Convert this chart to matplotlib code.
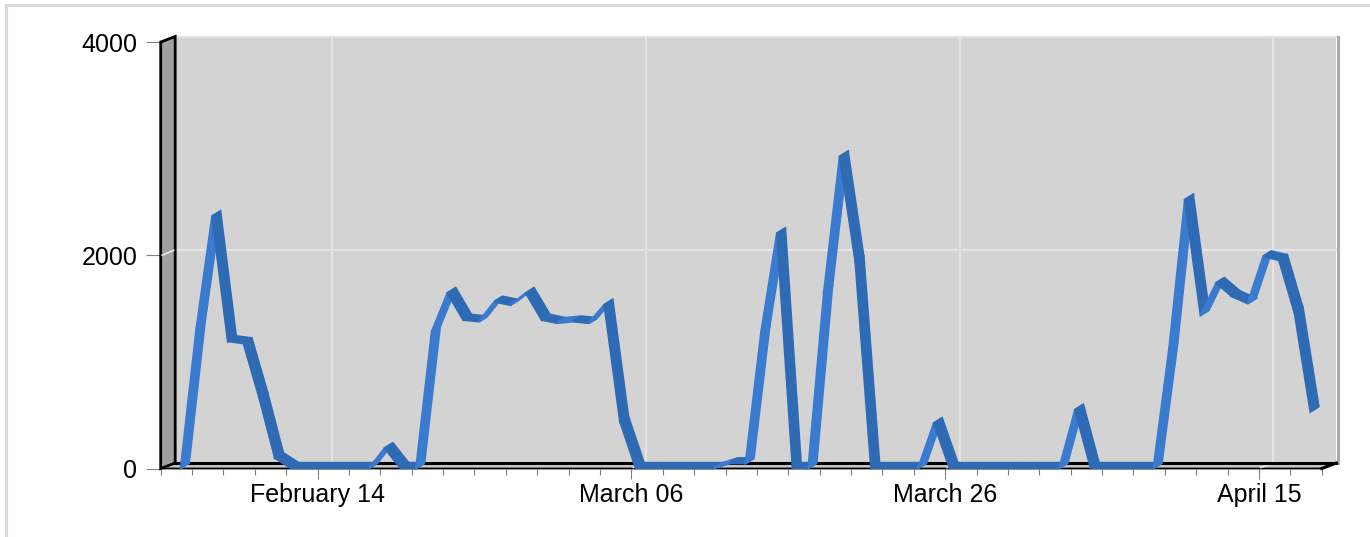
import numpy as np
import pandas as pd
import matplotlib
matplotlib.use("Agg")
import matplotlib.pyplot as plt
import matplotlib.dates as mdates
from matplotlib.patches import Polygon, Rectangle
from matplotlib.collections import PolyCollection
from matplotlib.transforms import ScaledTranslation, IdentityTransform
from matplotlib.ticker import FixedLocator

plt.rcParams['font.family'] = ['Liberation Sans', 'DejaVu Sans']

# daily values, Feb 05 -> Apr 18
start_day = "2021-02-05"
values = [0, 1310, 2360, 1190, 1170, 660, 95, 0, 0, 0,
          0, 0, 0, 185, 0, 0, 1280, 1640, 1390, 1375,
          1560, 1530, 1640, 1390, 1360, 1375, 1360, 1530, 435, 0,
          0, 0, 0, 0, 0, 45, 45, 1280, 2200, 0,
          0, 1655, 2920, 1935, 0, 0, 0, 0, 420, 0,
          0, 0, 0, 0, 0, 0, 0, 545, 0, 0,
          0, 0, 0, 1120, 2515, 1435, 1735, 1610, 1545, 1985,
          1950, 1450, 530]
dates = pd.date_range(start_day, periods=len(values), freq="D")

x_range = ["2021-02-04", "2021-04-19"]
xtick_dates = ["2021-02-14", "2021-03-06", "2021-03-26", "2021-04-15"]
xtick_labels = ["February 14", "March 06", "March 26", "April 15"]
yticks = [0, 2000, 4000]
ytick_labels = ["0", "2000", "4000"]

W, H, DPI = 1370, 537, 100
DX, DY = 14.5, 5.5  # depth of the 3d box, pixels

fig = plt.figure(figsize=(W / DPI, H / DPI), dpi=DPI)
fig.patch.set_facecolor("white")
ax = fig.add_axes([160.7 / W, 1 - 468.5 / H, (1321.7 - 160.7) / W, (468.5 - 42) / H])
ax.patch.set_visible(False)
for s in ax.spines.values():
    s.set_visible(False)

x0, x1 = mdates.date2num(pd.to_datetime(x_range))
ax.set_xlim(x0, x1)
ax.set_ylim(0, 4000)

def px(dx, dy):
    return ScaledTranslation(dx / DPI, dy / DPI, fig.dpi_scale_trans)

back = px(DX, DY)

# back wall
ax.add_patch(Rectangle((0, 0), 1, 1, transform=ax.transAxes + back,
                       fc="#D3D3D3", ec="none", zorder=0, clip_on=False))
ax.plot([1, 1], [0, 1], transform=ax.transAxes + px(DX + 1.5, DY),
        color="#A9A9A9", lw=2.2, zorder=0.5, clip_on=False)
ax.plot([0, 1], [1, 1], transform=ax.transAxes + px(DX, DY),
        color="#E2E2E2", lw=1.5, zorder=0.5, clip_on=False)

# grid on back wall
xt = mdates.date2num(pd.to_datetime(xtick_dates))
for d in xt:
    ax.plot([d, d], [0, 4000], transform=ax.transData + back,
            color="#E4E4E4", lw=1.6, zorder=0.6, clip_on=False)
ax.plot([x0, x1], [2000, 2000], transform=ax.transData + back,
        color="#E4E4E4", lw=1.6, zorder=0.6, clip_on=False)

T = ax.transAxes.transform
A = T((0, 0)); B = T((0, 1)); C = T((1, 0))
off = np.array([DX, DY])
idt = IdentityTransform()

# floor
floor = Polygon([A, C, C + off, A + off], closed=True, transform=idt,
                fc="#C6C6C6", ec="black", lw=1.3, zorder=1, clip_on=False)
fig.add_artist(floor)
fig.add_artist(plt.Line2D([A[0] + DX, C[0] + DX], [A[1] + DY, C[1] + DY],
                          transform=idt, color="black", lw=2.2, zorder=1.1))
fig.add_artist(plt.Line2D([C[0], C[0] + DX], [C[1], C[1] + DY],
                          transform=idt, color="black", lw=2.2, zorder=1.1))
for d in xt:
    p = ax.transData.transform((d, 0))
    fig.add_artist(plt.Line2D([p[0] + 2, p[0] + DX - 2], [p[1] + 1, p[1] + DY - 1],
                              transform=idt, color="#E8E8E8", lw=1.2, zorder=1.05))

# left wall
wall = Polygon([A, B, B + off, A + off], closed=True, transform=idt,
               fc="#A0A0A0", ec="black", lw=2.0, zorder=4, clip_on=False)
fig.add_artist(wall)
p = ax.transData.transform((x0, 2000))
fig.add_artist(plt.Line2D([p[0] + 1.5, p[0] + DX - 1.5], [p[1], p[1] + DY - 0.5],
                          transform=idt, color="#E8E8E8", lw=1.2, zorder=4.1))

# 3d ribbon line
pts = ax.transData.transform(np.column_stack([mdates.date2num(dates), values]))
front = pts + np.array([4.5, 0.5])
rear = pts + np.array([12.5, 5.5])
quads, cols = [], []
for i in range(len(values) - 1):
    quads.append([front[i], front[i + 1], rear[i + 1], rear[i]])
    cols.append("#3A7ACF" if values[i + 1] > values[i] else "#2F6BB5")
rib = PolyCollection(quads, facecolors=cols, edgecolors=cols, linewidths=1.7,
                     joinstyle="miter", transform=idt, zorder=3)
fig.add_artist(rib)

# ticks
ax.set_xticks(xt, xtick_labels)
minor = pd.date_range(x_range[0], x_range[1], freq="2D")
ax.xaxis.set_minor_locator(FixedLocator(mdates.date2num(minor)))
ax.tick_params(axis="x", which="major", length=7.2, width=0.8, color="#808080",
               labelsize=18, pad=3.5)
ax.tick_params(axis="x", which="minor", length=4.3, width=0.8, color="#808080")
ax.set_yticks(yticks, ytick_labels)
ax.tick_params(axis="y", length=10.8, width=0.8, color="#808080",
               labelsize=18, pad=6)

# outer frame (display coords, origin bottom-left)
fig.add_artist(Rectangle((6, -30), W + 30, H - 4.5 + 30, transform=idt,
                         fill=False, ec="#D8D8D8", lw=2.2))

fig.savefig("out.png", dpi=DPI)
